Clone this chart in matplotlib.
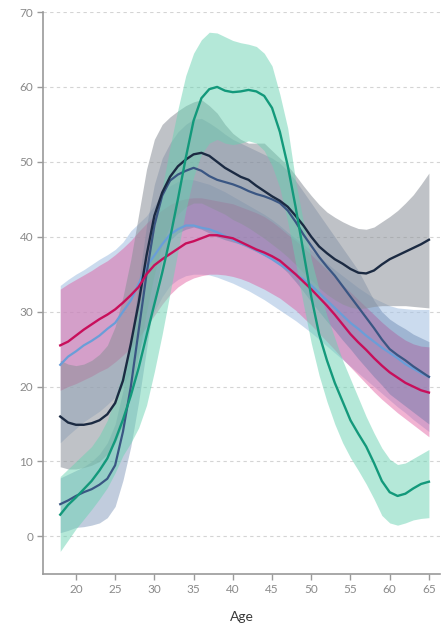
import matplotlib
matplotlib.use("Agg")
import matplotlib.pyplot as plt

ages = list(range(18, 66))

teal_mean = [2.9, 4.2, 5.2, 6.3, 7.4, 8.8, 10.4, 12.8, 15.6, 18.8, 22.5, 26.8, 31.0, 35.2, 39.8, 45.0,
             50.5, 55.5, 58.5, 59.7, 60.0, 59.5, 59.3, 59.4, 59.6, 59.4, 58.8, 57.2, 54.0, 49.5, 44.0, 38.0,
             32.0, 27.0, 23.5, 20.5, 18.0, 15.5, 13.7, 12.0, 9.8, 7.4, 5.9, 5.4, 5.7, 6.4, 7.0, 7.3]
teal_hi = [8.0, 9.0, 10.0, 11.0, 12.0, 13.5, 15.5, 18.5, 22.0, 26.0, 30.5, 35.5, 41.0, 46.5, 52.0, 57.0,
           61.5, 64.5, 66.3, 67.3, 67.2, 66.7, 66.2, 65.9, 65.7, 65.4, 64.5, 62.8, 59.0, 54.5, 47.5, 42.0,
           37.0, 33.0, 29.5, 26.5, 23.5, 21.0, 18.5, 16.0, 13.8, 11.8, 10.3, 9.6, 9.8, 10.4, 11.0, 11.6]
teal_lo = [-2.0, -0.5, 1.0, 2.3, 3.6, 5.0, 6.5, 8.5, 10.8, 12.5, 14.5, 17.5, 22.0, 27.0, 32.5, 38.0,
           43.5, 48.0, 51.0, 52.5, 53.0, 52.5, 52.3, 52.5, 52.8, 52.5, 51.5, 49.5, 46.5, 42.0, 36.5, 31.0,
           25.8, 21.5, 18.0, 15.0, 12.5, 10.5, 8.8, 7.0, 5.0, 2.8, 1.8, 1.5, 1.8, 2.2, 2.4, 2.5]

navy_mean = [16.0, 15.2, 14.9, 14.9, 15.1, 15.5, 16.3, 17.8, 20.8, 25.7, 31.2, 37.5, 42.8, 45.9, 48.0, 49.4,
             50.3, 51.0, 51.2, 50.8, 50.0, 49.2, 48.6, 48.0, 47.6, 46.8, 46.1, 45.4, 44.8, 44.0, 42.8, 41.5,
             40.0, 38.7, 37.8, 37.0, 36.4, 35.7, 35.2, 35.1, 35.5, 36.3, 37.0, 37.5, 38.0, 38.5, 39.0, 39.6]
navy_hi = [23.5, 23.0, 22.8, 23.0, 23.5, 24.3, 25.5, 28.0, 32.0, 37.0, 43.0, 49.0, 53.0, 55.0, 56.0, 56.8,
           57.5, 58.0, 58.3, 57.5, 56.5, 55.0, 53.8, 53.0, 52.5, 52.5, 52.5, 51.5, 50.5, 49.5, 48.2, 46.8,
           45.5, 44.3, 43.3, 42.6, 42.0, 41.5, 41.1, 41.0, 41.3, 42.0, 42.7, 43.5, 44.5, 45.6, 47.0, 48.5]
navy_lo = [9.3, 9.0, 9.0, 9.2, 9.5, 10.0, 11.0, 12.5, 15.0, 19.0, 24.0, 30.0, 35.0, 39.0, 41.5, 43.0,
           44.0, 44.5, 44.5, 44.0, 43.5, 43.0, 42.3, 41.8, 41.2, 40.5, 39.8, 39.0, 38.2, 37.3, 36.3, 35.2,
           34.2, 33.2, 32.3, 31.6, 31.0, 30.6, 30.4, 30.5, 30.7, 30.8, 30.8, 30.8, 30.8, 30.7, 30.6, 30.5]

slate_mean = [4.3, 4.8, 5.4, 5.9, 6.3, 6.9, 7.7, 9.5, 14.0, 20.0, 27.5, 35.0, 41.5, 45.5, 47.5, 48.3,
              48.8, 49.2, 48.8, 48.1, 47.6, 47.3, 47.0, 46.6, 46.1, 45.7, 45.4, 45.0, 44.5, 43.5, 42.0, 40.3,
              38.8, 37.3, 36.0, 34.8, 33.4, 32.0, 30.6, 29.2, 27.8, 26.3, 25.0, 24.2, 23.5, 22.7, 22.0, 21.3]
slate_hi = [7.8, 8.3, 8.8, 9.3, 10.0, 11.0, 12.5, 15.0, 19.5, 26.0, 34.0, 41.5, 47.0, 50.5, 52.5, 54.0,
            55.0, 55.7, 55.8, 55.2, 54.5, 53.7, 53.0, 52.5, 52.0, 51.5, 51.0, 50.5, 49.8, 48.8, 47.5, 46.0,
            44.5, 43.0, 41.5, 40.0, 38.5, 37.0, 35.5, 33.5, 31.5, 30.0, 29.0, 28.3, 27.7, 27.0, 26.5, 26.0]
slate_lo = [0.5, 0.8, 1.2, 1.3, 1.5, 1.8, 2.5, 4.0, 7.5, 12.0, 18.0, 25.0, 32.0, 37.0, 39.5, 40.5,
            41.0, 41.3, 41.0, 40.5, 40.0, 39.6, 39.3, 39.0, 38.5, 38.0, 37.5, 37.0, 36.2, 35.2, 34.0, 32.7,
            31.3, 30.0, 28.7, 27.5, 26.2, 25.0, 23.7, 22.5, 21.3, 20.2, 19.0, 18.2, 17.4, 16.6, 15.8, 15.0]

light_mean = [22.9, 24.0, 24.7, 25.5, 26.1, 26.8, 27.7, 28.5, 30.0, 31.5, 33.7, 36.0, 37.5, 39.0, 40.3, 41.0,
              41.5, 41.5, 41.2, 41.0, 40.6, 40.1, 39.6, 39.1, 38.7, 38.2, 37.6, 37.0, 36.3, 35.6, 35.0, 34.3,
              33.5, 32.5, 31.5, 30.5, 29.5, 28.5, 27.7, 26.8, 26.0, 25.2, 24.5, 23.8, 23.0, 22.4, 21.8, 21.3]
light_hi = [33.5, 34.3, 35.0, 35.6, 36.3, 37.0, 37.6, 38.3, 39.3, 40.8, 41.8, 42.8, 44.2, 45.8, 46.8, 47.4,
            47.7, 47.6, 47.3, 47.0, 46.5, 46.0, 45.4, 44.8, 44.2, 43.6, 43.0, 42.3, 41.5, 40.6, 39.8, 39.0,
            38.2, 37.3, 36.5, 35.6, 34.8, 34.0, 33.2, 32.5, 31.8, 31.3, 30.8, 30.5, 30.4, 30.3, 30.3, 30.3]
light_lo = [12.5, 13.5, 14.4, 15.3, 16.0, 16.7, 17.6, 18.6, 20.0, 22.0, 24.5, 27.5, 30.0, 32.0, 33.5, 34.3,
            34.8, 35.0, 35.0, 34.9, 34.6, 34.2, 33.8, 33.3, 32.8, 32.2, 31.6, 30.9, 30.2, 29.5, 28.8, 28.0,
            27.2, 26.3, 25.4, 24.5, 23.6, 22.7, 21.8, 20.9, 20.0, 19.1, 18.2, 17.3, 16.5, 15.6, 14.8, 14.0]

pink_mean = [25.5, 26.0, 26.8, 27.6, 28.3, 29.0, 29.6, 30.3, 31.2, 32.2, 33.3, 35.0, 36.2, 37.0, 37.7, 38.4,
             39.1, 39.4, 39.8, 40.2, 40.2, 40.0, 39.8, 39.3, 38.8, 38.3, 37.9, 37.4, 36.8, 35.9, 35.0, 34.0,
             33.0, 31.9, 30.8, 29.6, 28.3, 27.0, 25.9, 24.9, 23.8, 22.8, 21.9, 21.2, 20.5, 20.0, 19.5, 19.2]
pink_hi = [33.0, 33.7, 34.3, 34.9, 35.5, 36.2, 36.8, 37.6, 38.5, 39.5, 40.7, 41.8, 42.8, 43.6, 44.3, 44.8,
           45.1, 45.2, 45.2, 45.0, 44.8, 44.6, 44.4, 44.0, 43.6, 43.2, 42.7, 42.0, 41.2, 40.3, 39.5, 38.6,
           37.6, 36.6, 35.6, 34.6, 33.6, 32.6, 31.6, 30.6, 29.6, 28.6, 27.7, 26.9, 26.2, 25.7, 25.4, 25.3]
pink_lo = [19.5, 20.0, 20.4, 20.9, 21.4, 22.0, 22.5, 23.3, 24.2, 25.2, 26.5, 28.0, 29.5, 31.0, 32.3, 33.3,
           34.0, 34.5, 34.8, 35.0, 35.0, 34.9, 34.7, 34.4, 34.0, 33.5, 33.0, 32.4, 31.8, 31.0, 30.2, 29.2,
           28.2, 27.1, 26.0, 24.9, 23.7, 22.6, 21.5, 20.4, 19.3, 18.3, 17.4, 16.5, 15.7, 14.9, 14.1, 13.3]

y_ticks = [0, 10, 20, 30, 40, 50, 60, 70]
x_ticks = [20, 25, 30, 35, 40, 45, 50, 55, 60, 65]
x_label = "Age"

fig = plt.figure(figsize=(4.43, 6.32), dpi=100)
ax = fig.add_axes([0.097, 0.092, 0.896, 0.889])

ax.fill_between(ages, light_lo, light_hi, color="#a9c4e4", alpha=0.6, lw=0, zorder=1)
ax.fill_between(ages, pink_lo, pink_hi, color="#e0579d", alpha=0.45, lw=0, zorder=2)
ax.fill_between(ages, slate_lo, slate_hi, color="#4f6f9f", alpha=0.35, lw=0, zorder=3)
ax.fill_between(ages, navy_lo, navy_hi, color="#8c9199", alpha=0.55, lw=0, zorder=4)
ax.fill_between(ages, teal_lo, teal_hi, color="#6ad2b2", alpha=0.5, lw=0, zorder=5)

ax.plot(ages, light_mean, color="#6a9ed8", lw=1.6, zorder=6)
ax.plot(ages, slate_mean, color="#3a5683", lw=1.6, zorder=7)
ax.plot(ages, navy_mean, color="#1b2a42", lw=1.7, zorder=8)
ax.plot(ages, pink_mean, color="#c80f5b", lw=1.7, zorder=9)
ax.plot(ages, teal_mean, color="#13997b", lw=1.7, zorder=10)

ax.set_xlim(15.8, 66.4)
ax.set_ylim(-5, 70)
ax.set_xticks(x_ticks)
ax.set_yticks(y_ticks)
for y in y_ticks:
    ax.axhline(y, color="#d4d4d4", lw=0.8, ls=(0, (3, 3)), zorder=0)

for s in ["top", "right"]:
    ax.spines[s].set_visible(False)
for s in ["left", "bottom"]:
    ax.spines[s].set_color("#9a9a9a")
    ax.spines[s].set_linewidth(1.2)
ax.tick_params(axis="both", colors="#9a9a9a", length=4, width=1, labelsize=8.5, pad=3)
for lab in ax.get_xticklabels() + ax.get_yticklabels():
    lab.set_color("#8a8a8a")
    lab.set_family("Lato")
ax.set_xlabel(x_label, fontsize=10, color="#3a3a3a", family="Lato", labelpad=12)

fig.savefig("out.png", dpi=100)
